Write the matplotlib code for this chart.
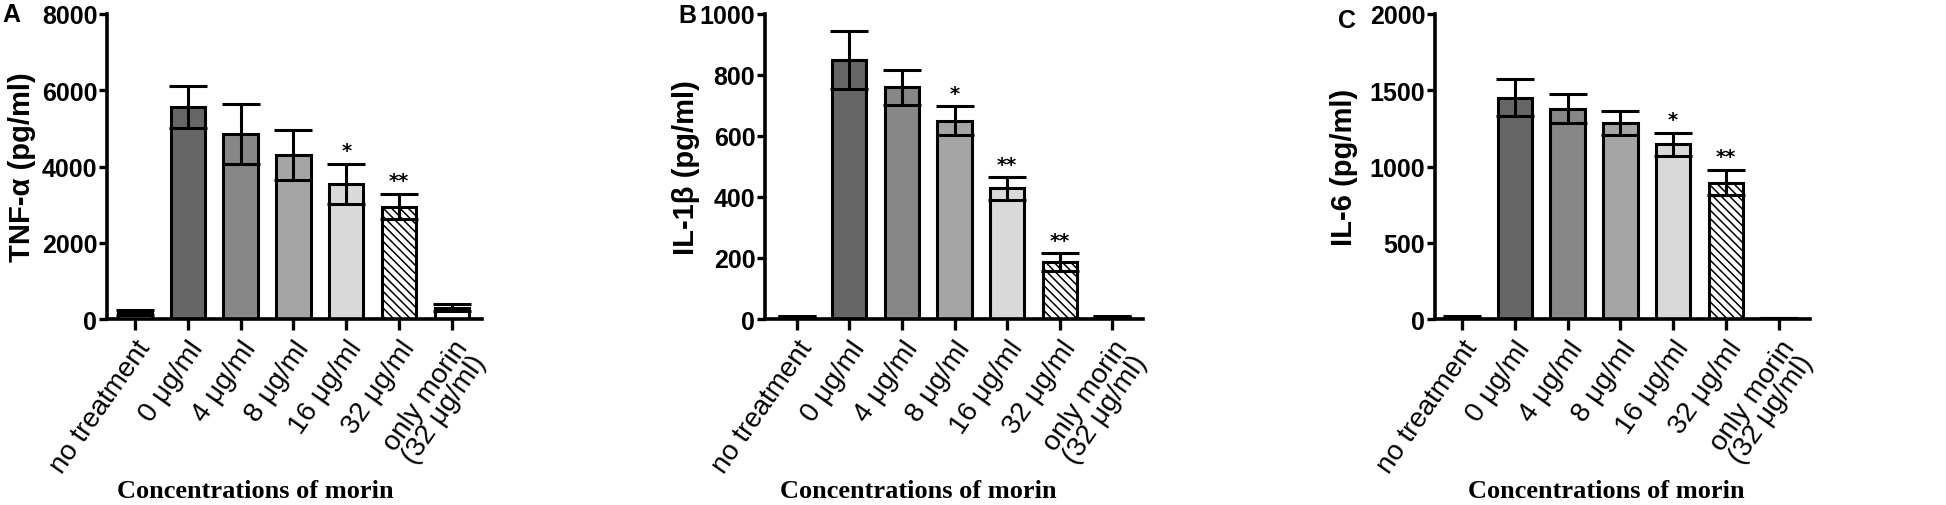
import matplotlib
matplotlib.use('Agg')
import matplotlib.pyplot as plt
import matplotlib.transforms as mtransforms
import numpy as np

groups = ['no treatment', '0 μg/ml', '4 μg/ml', '8 μg/ml', '16 μg/ml', '32 μg/ml', 'only morin\n(32 μg/ml)']

tnf_mean = [170, 5570, 4850, 4300, 3540, 2950, 300]
tnf_err = [60, 550, 780, 650, 530, 330, 90]
tnf_star = ['', '', '', '', '*', '**', '']

il1b_mean = [8, 850, 760, 650, 428, 186, 8]
il1b_err = [3, 95, 58, 47, 37, 29, 3]
il1b_star = ['', '', '', '*', '**', '**', '']

il6_mean = [12, 1452, 1380, 1284, 1146, 895, 6]
il6_err = [5, 120, 95, 77, 76, 83, 3]
il6_star = ['', '', '', '', '*', '**', '']

colors = ['white', '#666666', '#878787', '#a5a5a5', '#d9d9d9', 'white', 'white']
hatches = [None, None, None, None, None, '\\\\\\\\', None]

W, H = 1946, 506
# letter, ylabel, data, ymax, step, axes span (px), xlim, ylabel right edge (axes frac), letter pos (px), xlabel centre (px)
panels = [
    ('A', 'TNF-α (pg/ml)', tnf_mean, tnf_err, tnf_star, 8000, 2000, (107, 482), (-0.53, 6.57), -0.19, (2, 15), 255),
    ('B', 'IL-1β (pg/ml)', il1b_mean, il1b_err, il1b_star, 1000, 200, (765, 1143), (-0.6, 6.58), -0.172, (678, 16), 918),
    ('C', 'IL-6 (pg/ml)', il6_mean, il6_err, il6_star, 2000, 500, (1435, 1810), (-0.51, 6.59), -0.205, (1338, 21), 1606),
]
ax_top, ax_bottom = 15, 320

plt.rcParams['hatch.linewidth'] = 1.1
fig = plt.figure(figsize=(W / 100, H / 100), dpi=100)
sans = ['Liberation Sans', 'DejaVu Sans']
shift = mtransforms.ScaledTranslation(-8 / 100, -6 / 100, fig.dpi_scale_trans)

for (letter, ylab, mean, err, stars, ymax, ystep, (x0, x1), xlim,
     ylx, (lx, ly), xlc) in panels:
    ax = fig.add_axes([x0 / W, (H - ax_bottom) / H, (x1 - x0) / W, (ax_bottom - ax_top) / H])
    x = np.arange(len(groups))
    ax.bar(x, mean, width=0.65, color=colors, edgecolor='black', linewidth=2.2,
           hatch=hatches, zorder=2)
    ax.errorbar(x, mean, yerr=err, fmt='none', ecolor='black', elinewidth=2.2,
                capsize=14, capthick=2.2, zorder=3)
    for xi, m, e, s in zip(x, mean, err, stars):
        if s:
            ax.text(xi, m + e + ymax * 0.012, s, ha='center', va='bottom',
                    fontsize=14, fontweight='bold', family='DejaVu Sans')
    ax.set_xlim(*xlim)
    ax.set_ylim(0, ymax)
    ax.set_yticks(np.arange(0, ymax + 1, ystep))
    ax.set_xticks(x)
    ax.set_xticklabels(groups, rotation=55, ha='right', rotation_mode='anchor',
                       fontsize=20, family=sans, multialignment='center',
                       linespacing=0.85)
    for lab in ax.get_xticklabels():
        lab.set_transform(lab.get_transform() + shift)
    for lab in ax.get_yticklabels():
        lab.set_family(sans)
        lab.set_fontweight('bold')
        lab.set_fontsize(18)
    ax.tick_params(axis='y', direction='out', width=2.4, length=6, pad=1)
    ax.tick_params(axis='x', direction='out', width=2.4, length=8, pad=4)
    for side in ['top', 'right']:
        ax.spines[side].set_visible(False)
    for side in ['left', 'bottom']:
        ax.spines[side].set_linewidth(2.6)
    ax.set_ylabel(ylab, fontsize=21, fontweight='bold', family=sans)
    ax.yaxis.set_label_coords(ylx, 0.5)
    fig.text(xlc / W, (H - 492) / H, 'Concentrations of morin', fontsize=19,
             fontweight='bold', family='Liberation Serif', ha='center', va='center')
    fig.text(lx / W, (H - ly) / H, letter, fontsize=18, fontweight='bold',
             family=sans, ha='left', va='center')

fig.savefig('out.png', dpi=100)
